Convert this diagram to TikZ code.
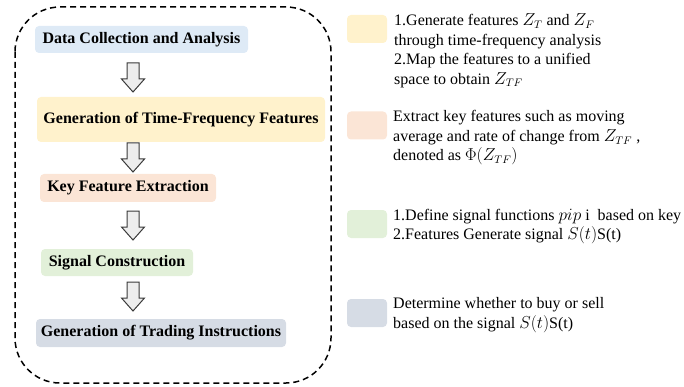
\documentclass[tikz,border=0pt]{standalone}
\usepackage{fontspec}
\setmainfont{Liberation Serif}
\usetikzlibrary{calc}
\definecolor{cBlue}{HTML}{DEEAF6}
\definecolor{cYellow}{HTML}{FFF2CC}
\definecolor{cPeach}{HTML}{FBE5D6}
\definecolor{cGreen}{HTML}{E2F0D9}
\definecolor{cGray}{HTML}{D6DCE5}
\definecolor{cArrow}{HTML}{EDEDED}
\definecolor{cEdge}{HTML}{3A3A3A}
\tikzset{
  stepbox/.style={rounded corners=4pt, inner sep=0pt, font=\fontsize{16}{19}\selectfont\bfseries},
  swatch/.style={rounded corners=4pt, minimum width=40pt, minimum height=28pt, inner sep=0pt},
  desc/.style={anchor=north west, inner sep=0pt, align=left, font=\fontsize{16}{19.5}\selectfont},
  blockarrow/.style={fill=cArrow, draw=cEdge, line width=1pt, line join=miter},
  frame/.style={dash pattern=on 6pt off 4pt, line width=1.5pt, rounded corners=45pt}
}
\newcommand{\downblock}[2]{% #1 = name of top coordinate
  \draw[blockarrow] ($(#1)+(-6,0)$) -- ($(#1)+(6,0)$) -- ($(#1)+(6,16)$) -- ($(#1)+(11.5,16)$)
    -- ($(#1)+(0,#2)$) -- ($(#1)+(-11.5,16)$) -- ($(#1)+(-6,16)$) -- cycle;}
\begin{document}
\begin{tikzpicture}[x=1pt,y=-1pt]
\useasboundingbox (0,0) rectangle (684,387);
\draw[frame] (15,7) rectangle (331,383);

\node[stepbox, fill=cBlue, minimum width=213pt, minimum height=27pt] (b1) at (141.5,39.5) {Data Collection and Analysis};
\node[stepbox, fill=cYellow, minimum width=288pt, minimum height=45pt] (b2) at (181,119.5) {Generation of Time-Frequency Features};
\node[stepbox, fill=cPeach, minimum width=176pt, minimum height=28pt] (b3) at (128,188) {Key Feature Extraction};
\node[stepbox, fill=cGreen, minimum width=152pt, minimum height=27pt] (b4) at (117,262.5) {Signal Construction};
\node[stepbox, fill=cGray, minimum width=250pt, minimum height=28pt] (b5) at (161,333) {Generation of Trading Instructions};

\coordinate (a1) at (133,63);
\coordinate (a2) at (133,143);
\coordinate (a3) at (133,211);
\coordinate (a4) at (133,282);
\downblock{a1}{29}
\downblock{a2}{29}
\downblock{a3}{29}
\downblock{a4}{29}

\node[swatch, fill=cYellow] (s1) at (367,29) {};
\node[swatch, fill=cPeach] (s2) at (367,125.5) {};
\node[swatch, fill=cGreen] (s3) at (367,224) {};
\node[swatch, fill=cGray] (s4) at (367,313) {};

\node[desc] (t1) at (394,13.5) {1.Generate features $Z_T$ and $Z_F$\\through time-frequency analysis\\2.Map the features to a unified\\space to obtain $Z_{TF}$};
\node[desc] (t2) at (393,110.5) {Extract key features such as moving\\average and rate of change from $Z_{TF}$ ,\\denoted as $\Phi(Z_{TF})$};
\node[desc] (t3) at (393,208.5) {1.Define signal functions $pip$ i~ based on key\\2.Features Generate signal $S(t)$S(t)};
\node[desc] (t4) at (393,297.5) {Determine whether to buy or sell\\based on the signal $S(t)$S(t)};
\end{tikzpicture}
\end{document}
